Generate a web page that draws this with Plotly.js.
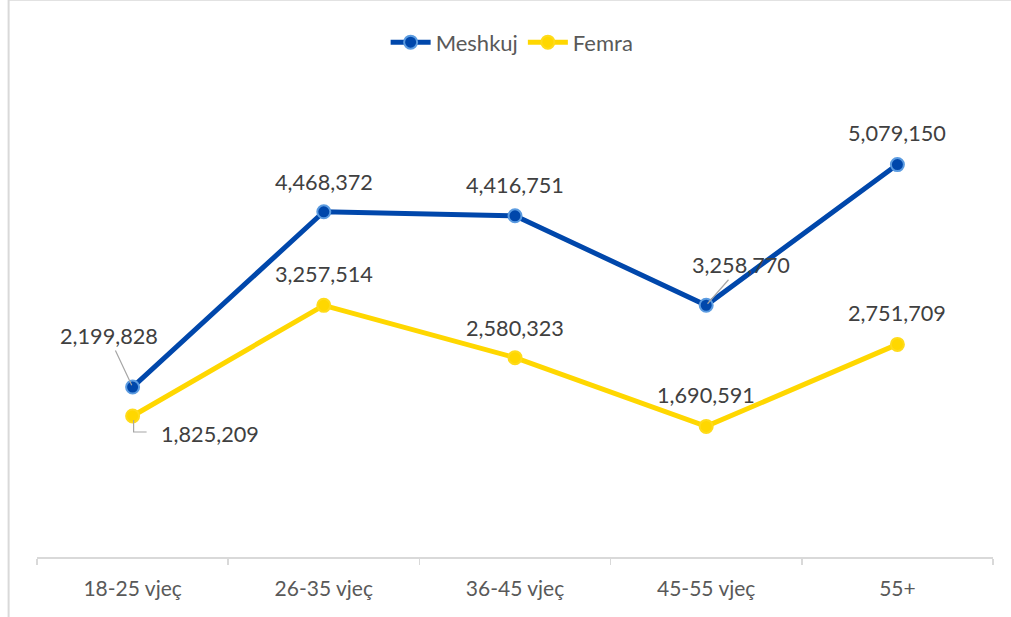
<!DOCTYPE html>
<html>
<head>
<meta charset="utf-8">
<script src="https://cdn.plot.ly/plotly-3.0.1.min.js"></script>
<style>html,body{margin:0;padding:0;background:#fff;}#chart{width:1011px;height:617px;}</style>
</head>
<body>
<div id="chart"></div>
<script>
const categories = ["18-25 vjeç", "26-35 vjeç", "36-45 vjeç", "45-55 vjeç", "55+"];
const meshkuj = [2199828, 4468372, 4416751, 3258770, 5079150];
const femra = [1825209, 3257514, 2580323, 1690591, 2751709];

const FONT = "Lato, 'Open Sans', sans-serif";
const fmt = v => v.toLocaleString("en-US");

const traces = [
  {
    x: categories, y: meshkuj, name: "Meshkuj", type: "scatter", mode: "lines+markers",
    line: {color: "#0047AB", width: 5},
    marker: {size: 13, color: "#0047AB", line: {color: "#5B9BE0", width: 2}}
  },
  {
    x: categories, y: femra, name: "Femra", type: "scatter", mode: "lines+markers",
    line: {color: "#FFD700", width: 5},
    marker: {size: 13, color: "#FFD700", line: {color: "#FFDB1A", width: 2}}
  }
];

// label placement offsets (pixels) for each point
const mOff = [[-24, -51, true], [0, -30, false], [0, -31, false], [35, -40, true], [0, -32, false]];
const fOff = [[77, 18, false], [0, -31, false], [0, -30, false], [0, -31, false], [0, -31, false]];

const annotations = [];
function addLabels(vals, offs) {
  vals.forEach((v, i) => {
    const [dx, dy, arrow] = offs[i];
    const a = {
      x: categories[i], y: v, xref: "x", yref: "y", text: fmt(v),
      font: {family: FONT, size: 21.7, color: "#404040"}
    };
    if (arrow) {
      Object.assign(a, {showarrow: true, ax: dx, ay: dy, arrowhead: 0, arrowwidth: 1.2,
        arrowcolor: "#A6A6A6", standoff: 2, startstandoff: 0});
    } else {
      Object.assign(a, {showarrow: false, xshift: dx, yshift: -dy});
    }
    annotations.push(a);
  });
}
addLabels(meshkuj, mOff);
addLabels(femra, fOff);

const shapes = [
  // elbow leader line for first Femra label
  {type: "path", xref: "x", yref: "y", xsizemode: "pixel", ysizemode: "pixel",
   xanchor: categories[0], yanchor: femra[0],
   path: "M1,-4 L1,-16 L14,-16", line: {color: "#A6A6A6", width: 1.2}},
  // chart frame lines
  {type: "line", xref: "paper", yref: "paper", x0: -0.0297, x1: 1.03, y0: 1.2056, y1: 1.2056,
   line: {color: "#D9D9D9", width: 1.5}},
  {type: "line", xref: "paper", yref: "paper", x0: -0.0297, x1: -0.0297, y0: 1.2056, y1: -0.14,
   line: {color: "#D9D9D9", width: 2}}
];

const layout = {
  width: 1011, height: 617,
  margin: {l: 37, r: 18, t: 95, b: 60},
  paper_bgcolor: "#fff", plot_bgcolor: "#fff",
  font: {family: FONT, size: 21, color: "#595959"},
  showlegend: true,
  legend: {orientation: "h", x: 0.497, xanchor: "center", y: 1.114, yanchor: "middle",
    font: {family: FONT, size: 22, color: "#595959"}, itemwidth: 40},
  xaxis: {
    type: "category", range: [-0.5, 4.5], tickson: "boundaries",
    ticks: "outside", ticklen: 6, tickcolor: "#D9D9D9", tickwidth: 1.5,
    showline: true, linecolor: "#D9D9D9", linewidth: 1.5, showgrid: false, zeroline: false,
    tickfont: {family: FONT, size: 21, color: "#595959"}, ticklabelstandoff: 12, fixedrange: true
  },
  yaxis: {range: [0, 5980000], visible: false, showgrid: false, zeroline: false, fixedrange: true},
  annotations: annotations,
  shapes: shapes
};

Plotly.newPlot("chart", traces, layout, {displayModeBar: false, staticPlot: true});
</script>
</body>
</html>
